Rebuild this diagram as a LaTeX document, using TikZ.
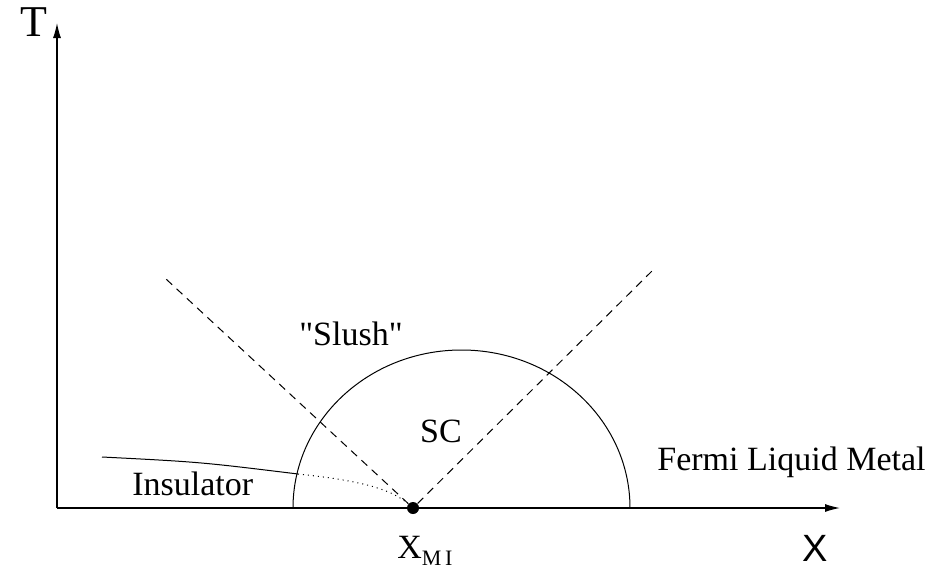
\documentclass[tikz,border=0pt]{standalone}
\usepackage{fontspec}
\setmainfont{Liberation Serif}[Ligatures=TeXOff]
\setsansfont{Liberation Sans}
\usetikzlibrary{arrows.meta, positioning}

\begin{document}
\begin{tikzpicture}[x=0.5pt, y=-0.5pt,
        lbl/.style={inner sep=0pt, font=\fontsize{17}{20}\selectfont},
        ax/.style={-{Latex[length=7.5pt,width=4pt]}, line width=0.6pt},
        bound/.style={line width=0.5pt},
        cross/.style={dashed, line width=0.5pt, dash pattern=on 4pt off 3pt}]
      \useasboundingbox (0,0) rectangle (931,573);
      % axes
      \coordinate (o) at (57,508);
      \coordinate (ytip) at (57,23);
      \coordinate (xtip) at (840,508);
      \draw[ax] (o) -- (ytip);
      \draw[ax] (o) -- (xtip);
      \node[inner sep=0pt, font=\fontsize{22}{24}\selectfont] (tlab) at (34,22) {T};
      \node[inner sep=0pt, font=\sffamily\fontsize{19}{22}\selectfont] (xlab) at (815,548) {X};
      % critical point
      \node[circle, fill, inner sep=0pt, minimum size=6pt] (mi) at (413,508) {};
      \node[inner sep=0pt, font=\fontsize{17}{20}\selectfont, anchor=base west] (xmi) at (397,558)
            {X\raisebox{-0.5ex}{\fontsize{11}{12}\selectfont M\,I}};
      % crossover lines
      \coordinate (lend) at (166,279);
      \coordinate (rend) at (655,268);
      \draw[cross] (mi) -- (lend);
      \draw[cross] (mi) -- (rend);
      % superconducting dome
      \coordinate (scl) at (293,508);
      \draw[bound] (scl) arc[start angle=180, end angle=360, x radius=168.5, y radius=158];
      % insulator boundary
      \coordinate (ins0) at (102,457);
      \coordinate (ins1) at (298,474);
      \draw[bound] (ins0) .. controls (200,462) .. (ins1);
      \draw[bound, dotted] (ins1) .. controls (365,481) and (392,490) .. (mi);
      % labels
      \node[lbl, anchor=base west] (ins) at (132,495) {Insulator};
      \node[lbl, anchor=base] (slush) at (351,345) {"Slush"};
      \node[lbl, anchor=base] (sc) at (441,442) {SC};
      \node[lbl, anchor=base east] (flm) at (926,470) {Fermi Liquid Metal};
\end{tikzpicture}
\end{document}
